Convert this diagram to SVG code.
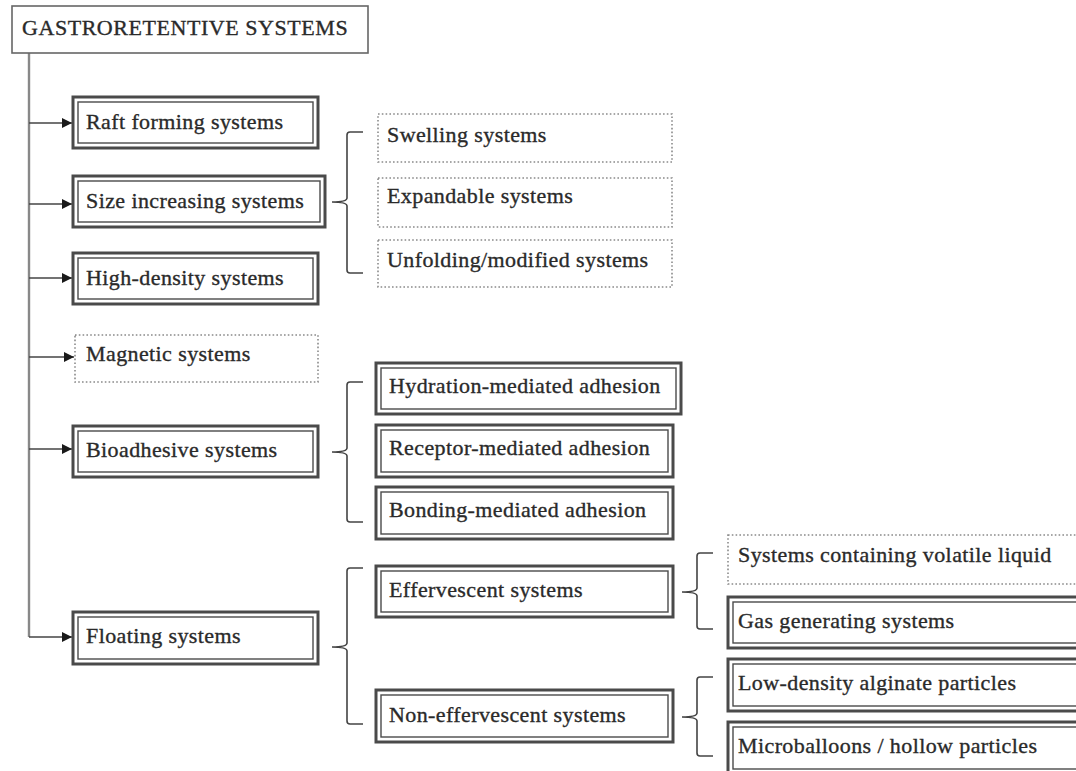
<svg xmlns="http://www.w3.org/2000/svg" width="1076" height="771" viewBox="0 0 1076 771">
<defs>
<style>
text{font-family:"Liberation Serif","Times New Roman",serif;font-size:22px;fill:#2a2a2a;stroke:#2a2a2a;stroke-width:0.35px;letter-spacing:0.4px}
.o{fill:#fff;stroke:#4a4a4a;stroke-width:3}
.i{fill:none;stroke:#4a4a4a;stroke-width:1.4}
.d{fill:#fff;stroke:#8a8a8a;stroke-width:1.6;stroke-dasharray:1.6 2.2}
.t{fill:#fff;stroke:#666;stroke-width:1.6}
.c{fill:none;stroke:#444;stroke-width:1.6}
.tr{fill:none;stroke:#888;stroke-width:2.4}
</style>
<marker id="ah" viewBox="0 0 10 10" refX="10" refY="5" markerWidth="10" markerHeight="10" markerUnits="userSpaceOnUse" orient="auto">
<path d="M0,0 L10,5 L0,10 z" fill="#1a1a1a"/>
</marker>
</defs>
<rect width="1076" height="771" fill="#fff"/>

<g id="connectors">
<path class="tr" d="M29,53 V637"/>
<path class="c" d="M29,637 H72" marker-end="url(#ah)"/>
<path class="c" d="M29,123 H72" marker-end="url(#ah)"/>
<path class="c" d="M29,204 H72" marker-end="url(#ah)"/>
<path class="c" d="M29,278 H72" marker-end="url(#ah)"/>
<path class="c" d="M29,357 H74" marker-end="url(#ah)"/>
<path class="c" d="M29,449 H72" marker-end="url(#ah)"/>
<path class="c" d="M363,132 H350 Q347,132 347,135 V198 Q347,202 332,202 Q347,202 347,206 V270 Q347,273 350,273 H363"/>
<path class="c" d="M363,382 H350 Q347,382 347,385 V448 Q347,452 332,452 Q347,452 347,456 V519 Q347,522 350,522 H363"/>
<path class="c" d="M363,568 H350 Q347,568 347,571 V643 Q347,647 332,647 Q347,647 347,651 V721 Q347,724 350,724 H363"/>
<path class="c" d="M713,553 H700 Q697,553 697,556 V588 Q697,592 682,592 Q697,592 697,596 V626 Q697,629 700,629 H713"/>
<path class="c" d="M713,677 H700 Q697,677 697,680 V713 Q697,717 682,717 Q697,717 697,721 V753 Q697,756 700,756 H713"/>
</g>

<g id="title">
<rect class="t" x="12" y="6" width="356" height="47"/>
<text x="22" y="35" style="letter-spacing:0.55px">GASTRORETENTIVE SYSTEMS</text>
</g>

<g id="raft">
<rect class="o" x="73" y="97" width="245" height="51"/>
<rect class="i" x="78" y="102" width="235" height="41"/>
<text x="86" y="129">Raft forming systems</text>
</g>
<g id="size">
<rect class="o" x="73" y="176" width="252" height="51"/>
<rect class="i" x="78" y="181" width="242" height="41"/>
<text x="86" y="208">Size increasing systems</text>
</g>
<g id="highdensity">
<rect class="o" x="73" y="253" width="245" height="51"/>
<rect class="i" x="78" y="258" width="235" height="41"/>
<text x="86" y="285">High-density systems</text>
</g>
<g id="magnetic">
<rect class="d" x="75" y="335" width="243" height="47"/>
<text x="86" y="361">Magnetic systems</text>
</g>
<g id="bioadhesive">
<rect class="o" x="73" y="426" width="245" height="51"/>
<rect class="i" x="78" y="431" width="235" height="41"/>
<text x="86" y="457">Bioadhesive systems</text>
</g>
<g id="floating">
<rect class="o" x="73" y="612" width="245" height="52"/>
<rect class="i" x="78" y="617" width="235" height="42"/>
<text x="86" y="643">Floating systems</text>
</g>

<g id="swelling">
<rect class="d" x="378" y="114" width="294" height="48"/>
<text x="387" y="142">Swelling systems</text>
</g>
<g id="expandable">
<rect class="d" x="378" y="178" width="294" height="49"/>
<text x="387" y="203">Expandable systems</text>
</g>
<g id="unfolding">
<rect class="d" x="378" y="240" width="294" height="47"/>
<text x="387" y="267">Unfolding/modified systems</text>
</g>

<g id="hydration">
<rect class="o" x="376" y="363" width="305" height="51"/>
<rect class="i" x="381" y="368" width="295" height="41"/>
<text x="389" y="393">Hydration-mediated adhesion</text>
</g>
<g id="receptor">
<rect class="o" x="376" y="425" width="297" height="52"/>
<rect class="i" x="381" y="430" width="287" height="42"/>
<text x="389" y="455">Receptor-mediated adhesion</text>
</g>
<g id="bonding">
<rect class="o" x="376" y="487" width="297" height="52"/>
<rect class="i" x="381" y="492" width="287" height="42"/>
<text x="389" y="517">Bonding-mediated adhesion</text>
</g>

<g id="effervescent">
<rect class="o" x="376" y="566" width="297" height="51"/>
<rect class="i" x="381" y="571" width="287" height="41"/>
<text x="389" y="597">Effervescent systems</text>
</g>
<g id="noneffervescent">
<rect class="o" x="376" y="690" width="297" height="52"/>
<rect class="i" x="381" y="695" width="287" height="42"/>
<text x="389" y="722">Non-effervescent systems</text>
</g>

<g id="volatile">
<rect class="d" x="728" y="535" width="360" height="49"/>
<text x="738" y="562">Systems containing volatile liquid</text>
</g>
<g id="gas">
<rect class="o" x="728" y="597" width="360" height="51"/>
<rect class="i" x="733" y="602" width="350" height="41"/>
<text x="738" y="628">Gas generating systems</text>
</g>
<g id="lowdensity">
<rect class="o" x="728" y="659" width="360" height="52"/>
<rect class="i" x="733" y="664" width="350" height="42"/>
<text x="738" y="690">Low-density alginate particles</text>
</g>
<g id="microballoons">
<rect class="o" x="728" y="722" width="360" height="52"/>
<rect class="i" x="733" y="727" width="350" height="42"/>
<text x="738" y="753">Microballoons / hollow particles</text>
</g>
</svg>
